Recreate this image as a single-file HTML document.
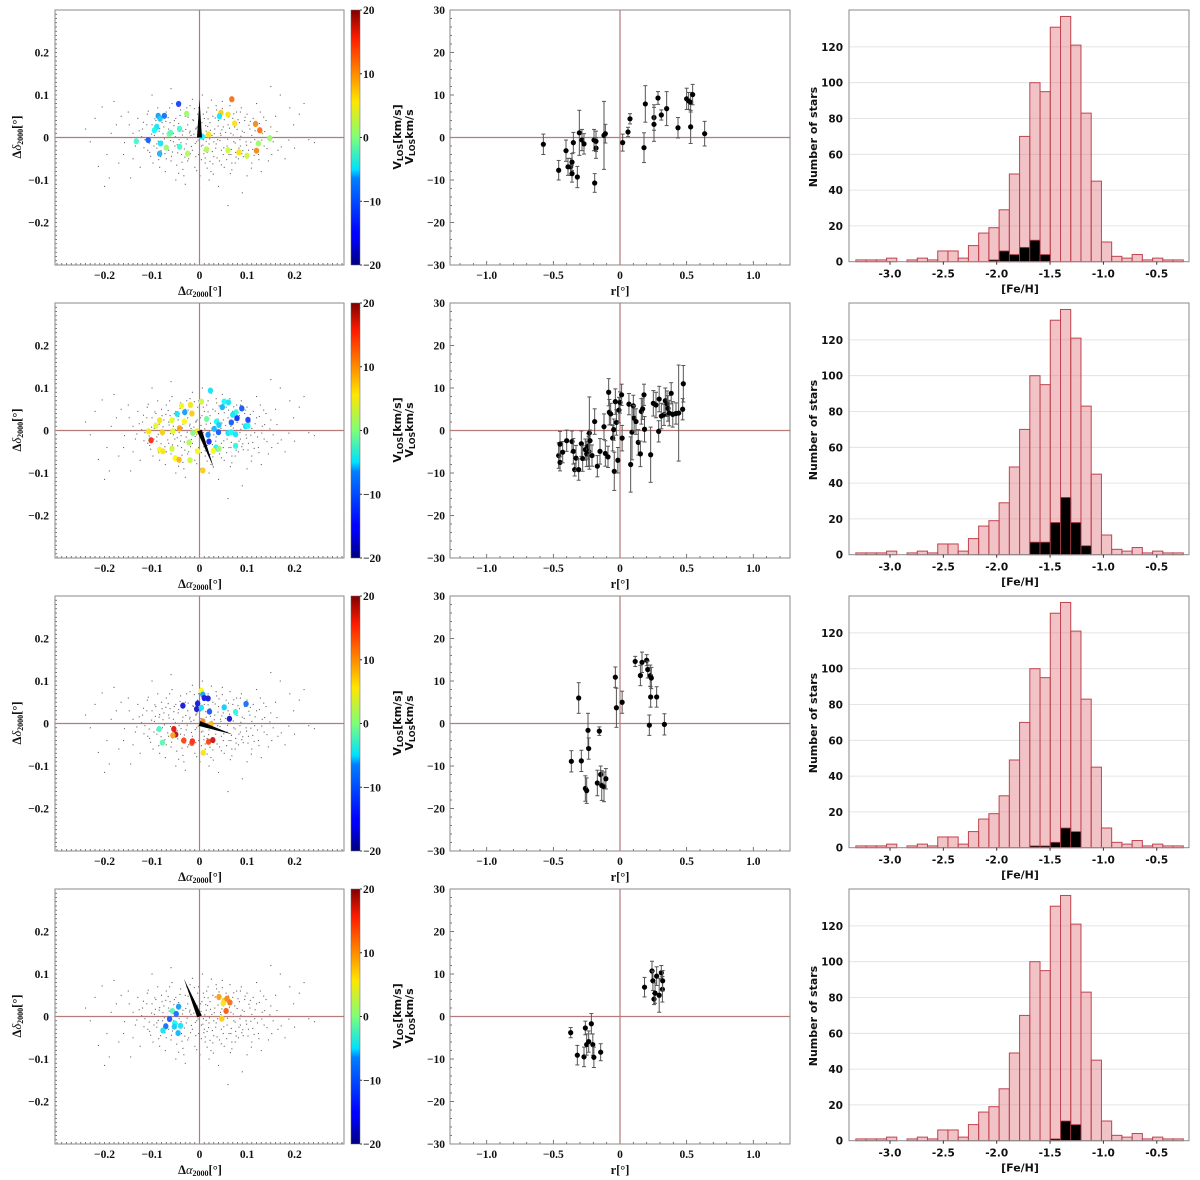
<!DOCTYPE html>
<html><head><meta charset="utf-8"><title>Kinematics and metallicity panels</title>
<style>
html,body{margin:0;padding:0;background:#fff;}
svg{display:block;}
.tl{font-family:"Liberation Serif",serif;font-weight:bold;font-size:11.5px;fill:#111;}
.ts{font-family:"DejaVu Sans","Liberation Sans",sans-serif;font-weight:bold;font-size:10.5px;fill:#111;}
.lab{font-family:"DejaVu Sans","Liberation Sans",sans-serif;font-weight:bold;font-size:11px;fill:#111;}
.labs{font-family:"Liberation Serif",serif;font-weight:bold;font-size:12.5px;fill:#111;}
</style></head>
<body>
<svg id="fig" width="1200" height="1180" viewBox="0 0 1200 1180" xmlns="http://www.w3.org/2000/svg">
<defs>
<linearGradient id="jet" x1="0" y1="1" x2="0" y2="0">
<stop offset="0" stop-color="#00007f"/><stop offset="0.11" stop-color="#0000ff"/>
<stop offset="0.125" stop-color="#0000ff"/><stop offset="0.34" stop-color="#0080ff"/>
<stop offset="0.375" stop-color="#00e0ff"/><stop offset="0.5" stop-color="#7dff7a"/>
<stop offset="0.64" stop-color="#ffe600"/><stop offset="0.75" stop-color="#ff8c00"/>
<stop offset="0.89" stop-color="#ff1c00"/><stop offset="1" stop-color="#800000"/>
</linearGradient>
</defs>
</svg>
<script>
// ---------- DATA ----------
const binStart = -3.32;
const binWidth = 0.0959;
const histCounts = [1,1,1,2,0,1,2,1,6,6,2,9,16,19,29,49,70,100,95,131,137,121,83,45,11,3,2,4,1,2,1,1];
const blackCounts1 = [0,0,0,0,0,0,0,0,0,0,0,0,0,1,6,4,8,12,4,0,0,0,0,0,0,0,0,0,0,0,0,0];
const blackCounts2 = [0,0,0,0,0,0,0,0,0,0,0,0,0,0,0,0,0,7,7,18,32,18,5,0,0,0,0,0,0,0,0,0];
const blackCounts3 = [0,0,0,0,0,0,0,0,0,0,0,0,0,0,0,0,0,1,1,3,11,9,0,0,0,0,0,0,0,0,0,0];
const blackCounts4 = [0,0,0,0,0,0,0,0,0,0,0,0,0,0,0,0,0,0,0,1,11,9,0,0,0,0,0,0,0,0,0,0];
const histXTicks = [-3.0,-2.5,-2.0,-1.5,-1.0,-0.5];
const histYTicks = [0,20,40,60,80,100,120];

const r1 = [-0.575,-0.46,-0.405,-0.39,-0.37,-0.36,-0.36,-0.35,-0.32,-0.305,-0.285,-0.27,-0.195,-0.19,-0.18,-0.18,-0.12,-0.11,0.02,0.06,0.075,0.18,0.19,0.255,0.255,0.285,0.31,0.35,0.435,0.5,0.515,0.53,0.53,0.545,0.635];
const v1 = [-1.6,-7.7,-3.1,-6.9,-6.9,-5.8,-8.5,-1.2,-9.3,1.1,-0.6,-1.5,-0.6,-10.7,-2.5,-0.9,0.5,0.9,-1.2,1.3,4.4,-2.4,7.9,4.7,3.1,9.3,5.3,6.8,2.3,9.1,8.6,8.3,2.5,10.1,0.9];
const e1 = [2.4,2.3,2.5,2,2,2,2,2.4,2.5,5.3,2.5,2.4,2.5,2.2,2.4,2.4,8,2.2,2,1.1,1.2,3.5,4.3,3,4,1.5,1.2,4,2.4,2.5,2,2.3,3.9,2.4,2.9];

const r2 = [-0.46,-0.45,-0.45,-0.43,-0.40,-0.36,-0.35,-0.34,-0.33,-0.31,-0.29,-0.28,-0.26,-0.25,-0.24,-0.235,-0.23,-0.225,-0.21,-0.19,-0.17,-0.15,-0.12,-0.11,-0.09,-0.085,-0.08,-0.07,-0.055,-0.047,-0.043,-0.035,-0.027,-0.016,-0.008,0.0,0.012,0.016,0.067,0.08,0.09,0.1,0.106,0.12,0.137,0.153,0.16,0.17,0.18,0.184,0.23,0.25,0.27,0.29,0.294,0.31,0.33,0.34,0.353,0.36,0.37,0.384,0.396,0.42,0.44,0.47,0.475];
const v2 = [-5.9,-7.5,-3.2,-5.1,-2.4,-2.6,-4.9,-9.2,-6.5,-9.2,-3.1,-6.6,-4.5,-5.5,-3.75,-4.9,-0.6,-2.4,-5.9,2.1,-8.4,-4.9,0.9,-5.4,-6.2,9.0,4.3,3.9,-1.8,0.2,-9.6,6.8,1.9,-7.0,4.8,6.6,8.4,-1.8,6.2,-8.0,-0.4,5.8,2.9,2.1,-2.8,-5.5,4.5,5.1,8.4,0.3,-5.7,6.4,6.0,-0.2,7.4,3.4,3.7,7.0,6.3,5.2,4.1,8.75,3.8,4.0,4.1,5.0,11.0];
const e2 = [3,2,3,2.5,2.5,2.5,3,1.5,3,2.5,3,3,2.5,3,3,3.5,8.5,2.5,2.5,3,2.5,3,3,3,2.5,3.2,3,2.5,3,2.5,4.5,3,3,3,3,2.5,2.5,3,2.5,6.5,6.5,2.5,3,3,3,3,3,2.5,2.5,3,6.5,3,3,2.5,3,3,2.5,3,3,3,3,2.5,3,2.5,11.3,2.5,4.3];

const r3 = [-0.365,-0.31,-0.29,-0.26,-0.25,-0.24,-0.235,-0.17,-0.155,-0.145,-0.137,-0.12,-0.106,-0.035,-0.027,0.016,0.114,0.153,0.165,0.2,0.208,0.22,0.227,0.23,0.235,0.275,0.333];
const v3 = [-8.9,6.0,-8.8,-15.3,-15.8,-1.6,-5.9,-14.0,-1.8,-12.0,-14.6,-14.9,-13.0,10.9,3.7,5.0,14.6,11.3,14.4,14.9,12.7,-0.4,11.25,6.25,10.7,6.25,-0.2];
const e3 = [2.5,3.6,2.5,3,3,4,2.5,3,1,2,3.5,3.5,2.4,2.4,4.6,2.6,1.2,2.4,2.4,1.3,2,2.4,2.5,2.4,2.5,2.4,2.5];

const r4 = [-0.37,-0.32,-0.27,-0.26,-0.25,-0.235,-0.215,-0.204,-0.196,-0.145,0.184,0.24,0.247,0.255,0.263,0.275,0.294,0.31,0.318,0.32];
const v4 = [-3.8,-9.1,-9.5,-2.7,-6.6,-5.9,-1.7,-6.6,-9.6,-8.4,6.9,10.7,8.4,4.1,5.5,9.5,5.0,10.3,6.4,8.4];
const e4 = [1.2,2.3,2.3,1.6,2.5,2.5,2.4,2.5,2.4,2,2.3,2.3,2.3,1.3,2.4,2.2,4,1.7,3,2.4];

const rTicks = [-1.0,-0.5,0,0.5,1.0];
const vTicks = [30,20,10,0,-10,-20,-30];
const posTicks = [-0.2,-0.1,0,0.1,0.2];
const cbTicks = [20,10,0,-10,-20];

const cx1 = [-0.044,-0.087,-0.083,-0.074,-0.09,-0.095,-0.064,-0.061,-0.042,-0.027,-0.133,-0.108,-0.082,-0.084,-0.07,-0.042,-0.025,0.006,0.019,0.015,0.045,0.042,0.06,0.068,0.074,0.06,0.083,0.1,0.118,0.127,0.12,0.124,0.148,0.003];
const cy1 = [0.079,0.051,0.044,0.051,0.025,0.017,0.008,0.011,0.02,0.056,-0.009,-0.006,-0.014,-0.038,-0.024,-0.022,-0.038,0.002,0.007,-0.028,0.058,0.05,0.054,0.09,0.033,-0.03,-0.035,-0.043,0.032,0.017,-0.031,-0.014,-0.002,0.003];
const cv1 = [-13,-9,-7,-11,-6,-5,0,-2,-3,1,-3,-12,-6,-8,1,-3,2,-4,6,2,7,-6,6,11,6,3,6,3,10,11,10,1,1,-6];

const cx2 = [0.023,0.004,-0.019,-0.016,-0.031,-0.047,-0.038,-0.058,-0.084,-0.092,-0.107,-0.102,-0.078,-0.056,-0.042,-0.032,-0.005,-0.084,-0.077,-0.058,-0.051,-0.043,-0.02,-0.004,0.007,-0.022,0.052,0.061,0.048,0.089,0.077,0.07,0.067,0.079,0.102,0.097,0.102,0.036,0.041,0.031,0.018,0.04,0.06,0.067,0.076,0.02,0.035,0.041,0.029,0.076,-0.014,0.015];
const cy2 = [0.094,0.068,0.06,0.04,0.043,0.039,0.058,0.024,0.024,0.011,-0.002,-0.023,-0.004,-0.002,0.005,0.021,-0.002,-0.045,-0.049,-0.043,-0.065,-0.069,-0.07,-0.049,-0.094,-0.028,0.068,0.066,0.055,0.052,0.043,0.037,0.019,0.029,0.025,0.01,0.011,0.021,0.013,0.004,-0.01,-0.004,-0.006,-0.004,-0.009,-0.026,-0.04,-0.043,-0.048,-0.036,-0.006,0.027];
const cv2 = [-6,3,6,7,-9,-6,5,4,6,4,6,14,7,4,9,5,6,5,6,3,5,8,3,5,7,2,-5,-6,-8,-12,-4,-6,-12,-14,-13,-6,-5,-5,-7,-8,-10,-12,-6,-5,-6,-14,-5,1,5,-4,0,-1];

const cx3 = [0.004,0.007,0.01,0.018,-0.035,-0.004,-0.006,0.004,0.021,0.052,0.098,0.076,0.063,0.007,0.024,-0.085,-0.054,-0.05,-0.056,-0.078,-0.033,-0.016,-0.015,0.019,0.028,0.008];
const cy3 = [0.077,0.068,0.06,0.059,0.042,0.047,0.034,0.037,0.028,0.038,0.046,0.027,0.011,0.005,-0.002,-0.013,-0.013,-0.026,-0.028,-0.045,-0.04,-0.046,-0.042,-0.043,-0.039,-0.069];
const cv3 = [5,-9,-16,-16,-16,-16,-17,-6,-12,-7,-11,-4,-17,10,8,-3,16,18,9,-2,13,12,14,13,17,6];

const cx4 = [-0.044,-0.057,-0.049,-0.063,-0.052,-0.053,-0.071,-0.077,-0.04,-0.045,0.041,0.052,0.058,0.064,0.05,0.056,0.047];
const cy4 = [0.023,0.013,0.006,-0.006,-0.016,-0.024,-0.023,-0.033,-0.022,-0.039,0.046,0.037,0.042,0.033,0.031,0.013,-0.005];
const cv4 = [-9,-2,-11,-12,-5,-7,-11,-6,-6,-8,9,7,10,11,6,12,7];

const wedgeX = [0.0, 0.03, 0.07, -0.033];
const wedgeY = [0.09, -0.0875, -0.026, 0.089];

const fieldStars = "-220,45;-205,72;-190,-95;-175,30;-160,-40;-150,60;-140,10;-135,-20;-130,45;-125,-70;-120,20;-115,-5;-110,55;-105,-35;-100,30;-98,-60;-95,5;-92,40;-90,-25;-88,70;-85,15;-82,-45;-80,50;-78,-10;-75,25;-72,-80;-70,60;-68,0;-65,-30;-62,35;-60,-55;-58,80;-55,10;-52,-20;-50,45;-48,-65;-45,25;-43,-5;-40,65;-38,-40;-35,15;-33,-90;-30,50;-28,-15;-25,30;-23,-50;-20,75;-18,5;-15,-30;-13,40;-10,-70;-8,20;-6,-10;-4,55;-2,-40;0,-120;2,30;4,-20;6,100;8,-5;10,45;12,-60;14,15;16,-35;18,70;20,-15;22,35;24,-80;26,5;28,50;30,-45;32,20;34,-25;36,65;38,-5;40,40;42,-55;44,10;46,-30;48,85;50,25;52,-70;54,0;56,55;58,-20;60,30;62,-40;64,75;66,10;68,-60;70,45;72,-10;74,25;76,-35;78,60;80,0;82,-50;84,35;86,-20;88,70;90,15;92,-45;95,40;98,-10;100,55;103,-30;106,20;110,-60;113,45;116,-5;120,30;124,-40;128,60;132,10;136,-20;140,40;145,-55;150,25;155,-10;160,50;165,-30;170,100;180,-50;190,70;200,-25;210,55;230,-5;-230,-10;-200,-115;-180,85;-170,-60;-145,-95;-60,115;-30,-110;40,-115;90,-130;60,-160;120,80;150,120;-100,100;-50,-100;20,-100;100,-90;130,-80;-15,90;25,88;-70,-50;-35,-75;65,-85;110,5;-140,-50;-20,15;10,-30;-5,25;30,-10;-40,-25;50,-40;15,60;-55,-10;75,-60;-25,-55;35,75;-65,20;85,-5;-90,-15;45,5";
const fieldStarsCore = "-12,8;-9,-14;-7,22;-3,-6;3,12;7,-18;11,4;14,-9;17,26;21,-3;-17,-21;-21,11;-26,-4;-29,19;-32,-27;-36,6;-39,-12;-44,33;-47,-17;-51,2;-54,28;-57,-34;-61,-7;-64,13;-67,-22;-71,38;-74,-3;-77,9;-81,-31;-84,21;-87,-9;-93,17;-96,-20;-101,8;-106,-13;-111,30;-117,-24;-122,2;-127,16;-132,-8;5,35;9,-38;13,28;19,-26;23,17;27,-33;31,9;35,-15;39,27;43,-7;47,18;51,-24;55,12;59,-4;63,22;67,-28;71,6;75,-13;79,19;83,-25;87,3;91,-31;94,12;99,-18;104,29;108,-11;112,-28;117,16;122,-15;126,33;131,-6;137,14;142,-26;148,4;-8,-45;-14,42;-19,-38;-24,48;-31,-46;-37,-58;-41,52;-46,-36;-53,40;-59,-44;-66,47;-73,-38;-79,35;-86,-52;-94,44;-103,-44;-109,-30;-118,36;4,-52;8,55;12,-48;18,44;22,-56;28,-62;33,46;37,-48;41,58;46,-64;52,42;57,-52;61,48;66,-40;72,56;77,-46;81,42;89,-38;96,48;102,-46;107,38;115,-42;125,-52;135,48;-2,70;-6,-78;1,-90;-11,68;16,-72;-27,70;29,-86;-44,-84;48,68;-63,70;68,-76;-84,-70;86,60;-108,62;109,-72;-148,30;152,-40;-158,-12;163,14;-165,50;172,-22;-186,10;188,-6;-195,-40;198,30;-240,20;242,-12;-213,-68;220,80";

// ---------- HELPERS ----------
const svg = document.getElementById('fig');
const NS = 'http://www.w3.org/2000/svg';
function mk(tag, attrs, parent) {
  const el = document.createElementNS(NS, tag);
  for (const k in attrs) el.setAttribute(k, attrs[k]);
  (parent || svg).appendChild(el);
  return el;
}
function fmt(v) { return v === 0 ? '0' : (v < 0 ? '\u2212' : '') + Math.abs(v).toFixed(1); }
function jet(v) {
  let t = Math.max(0, Math.min(1, (v + 20) / 40));
  const r = Math.max(0, Math.min(1, 1.5 - Math.abs(4 * t - 3)));
  const g = Math.max(0, Math.min(1, 1.5 - Math.abs(4 * t - 2)));
  const b = Math.max(0, Math.min(1, 1.5 - Math.abs(4 * t - 1)));
  // slight pastel softening like the reference
  const s = c => Math.round((c * 0.85 + 0.15 * 0.85) * 255);
  return 'rgb(' + s(r) + ',' + s(g) + ',' + s(b) + ')';
}
const FRAME = '#8a8a8a', CROSS = '#b57a7a';
const stars = (fieldStars + ';' + fieldStarsCore).split(';').map(s => s.split(',').map(Number));

const posX = [cx1, cx2, cx3, cx4], posY = [cy1, cy2, cy3, cy4], posV = [cv1, cv2, cv3, cv4];
const rs = [r1, r2, r3, r4], vs = [v1, v2, v3, v4], es = [e1, e2, e3, e4];
const blacks = [blackCounts1, blackCounts2, blackCounts3, blackCounts4];

for (let row = 0; row < 4; row++) {
  const oy = row * 293;
  const top = 10 + oy, bot = 265 + oy;

  // ===== Panel A =====
  const gA = mk('g', {});
  
  
  const aL = 55, aR = 344;
  const ax = v => 199.5 + v * 475;
  const ay = v => 137.5 + oy - v * 425;
  mk('rect', {x: aL, y: top, width: aR - aL, height: bot - top, fill: '#fff', stroke: 'none'}, gA);
  for (let k = -30; k <= 30; k++) {
    const xx = ax(k / 100);
    if (xx > aL && xx < aR) mk('line', {x1: xx, y1: bot, x2: xx, y2: bot - 2, stroke: '#555', 'stroke-width': 0.8}, gA);
    const yy = ay(k / 100);
    if (yy > top && yy < bot) mk('line', {x1: aL, y1: yy, x2: aL + 2, y2: yy, stroke: '#555', 'stroke-width': 0.8}, gA);
  }
  stars.forEach(p => {
    const d = mk('rect', {x: ax(p[0] / 1000) - 0.5, y: ay(p[1] / 1000) - 0.5, width: 1.1, height: 1.1, fill: '#666'}, gA);
    
    
  });
  mk('line', {x1: aL, y1: ay(0), x2: aR, y2: ay(0), stroke: CROSS, 'stroke-width': 1.2}, gA);
  mk('line', {x1: ax(0), y1: top, x2: ax(0), y2: bot, stroke: CROSS, 'stroke-width': 1.2}, gA);
  for (let i = 0; i < posX[row].length; i++) {
    const c = mk('ellipse', {cx: ax(posX[row][i]), cy: ay(posY[row][i]), rx: 2.7, ry: 3.1, fill: jet(posV[row][i])}, gA);
    
    
  }
  {
    const x0 = ax(0), y0 = ay(0), x1 = ax(wedgeX[row]), y1 = ay(wedgeY[row]);
    const dx = x1 - x0, dy = y1 - y0, L = Math.hypot(dx, dy);
    const px = -dy / L * 2.5, py = dx / L * 2.5;
    const w = mk('polygon', {points: (x0 + px) + ',' + (y0 + py) + ' ' + (x0 - px) + ',' + (y0 - py) + ' ' + x1 + ',' + y1, fill: '#000'}, gA);
    
    
  }
  mk('rect', {x: aL, y: top, width: aR - aL, height: bot - top, fill: 'none', stroke: FRAME, 'stroke-width': 1}, gA);
  posTicks.forEach(t => {
    const tx = mk('text', {x: ax(t), y: bot + 14, 'text-anchor': 'middle', class: 'tl'}, gA);
    tx.textContent = fmt(t);
    
    
    const ty = mk('text', {x: aL - 6, y: ay(t) + 4, 'text-anchor': 'end', class: 'tl'}, gA);
    ty.textContent = fmt(t);
    
    
  });
  const xtA = mk('text', {x: 200, y: bot + 30, 'text-anchor': 'middle', class: 'labs'}, gA);
  xtA.innerHTML = '\u0394<tspan font-style="italic" font-weight="normal">\u03b1</tspan><tspan font-size="8" dy="2">2000</tspan><tspan dy="-2">[\u00b0]</tspan>';
  
  
  const ytA = mk('text', {x: 0, y: 0, 'text-anchor': 'middle', class: 'labs', transform: 'translate(21,' + (137 + oy) + ') rotate(-90)'}, gA);
  ytA.innerHTML = '\u0394<tspan font-style="italic" font-weight="normal">\u03b4</tspan><tspan font-size="8" dy="2">2000</tspan><tspan dy="-2">[\u00b0]</tspan>';
  
  

  const cb = mk('rect', {x: 351, y: top, width: 9, height: bot - top, fill: 'url(#jet)', stroke: '#666', 'stroke-width': 0.5});
  
  
  cbTicks.forEach(t => {
    const yy = top + (20 - t) / 40 * (bot - top);
    mk('line', {x1: 360, y1: yy, x2: 362, y2: yy, stroke: '#333'});
    const tt = mk('text', {x: 363, y: yy + 4, class: 'tl'});
    tt.textContent = (t < 0 ? '\u2212' : '') + Math.abs(t);
    
    
  });
  const cbt = mk('text', {x: 0, y: 0, 'text-anchor': 'middle', class: 'lab', transform: 'translate(401,' + (137 + oy) + ') rotate(-90)'});
  cbt.innerHTML = 'V<tspan font-size="8" dy="2">LOS</tspan><tspan dy="-2">[km/s]</tspan>';
  
  

  // ===== Panel B =====
  const gB = mk('g', {});
  
  
  const bL = 450, bR = 790;
  const bx = v => 620 + v * 133.3;
  const by = v => 137.5 + oy - v * 4.25;
  for (let k = -12; k <= 12; k++) {
    const xx = bx(k / 10);
    if (xx > bL && xx < bR) mk('line', {x1: xx, y1: bot, x2: xx, y2: bot - (k % 5 === 0 ? 4 : 2), stroke: '#555', 'stroke-width': 0.8}, gB);
  }
  for (let k = -30; k <= 30; k += 2) {
    const yy = by(k);
    mk('line', {x1: bL, y1: yy, x2: bL + (k % 10 === 0 ? 4 : 2), y2: yy, stroke: '#555', 'stroke-width': 0.8}, gB);
  }
  mk('line', {x1: bL, y1: by(0), x2: bR, y2: by(0), stroke: CROSS, 'stroke-width': 1.2}, gB);
  mk('line', {x1: bx(0), y1: top, x2: bx(0), y2: bot, stroke: CROSS, 'stroke-width': 1.2}, gB);
  for (let i = 0; i < rs[row].length; i++) {
    const X = bx(rs[row][i]), Y = by(vs[row][i]), e = es[row][i];
    const g = mk('g', {}, gB);
    
    
    mk('line', {x1: X, y1: by(vs[row][i] + e), x2: X, y2: by(vs[row][i] - e), stroke: '#555', 'stroke-width': 1}, g);
    mk('line', {x1: X - 2, y1: by(vs[row][i] + e), x2: X + 2, y2: by(vs[row][i] + e), stroke: '#555', 'stroke-width': 1}, g);
    mk('line', {x1: X - 2, y1: by(vs[row][i] - e), x2: X + 2, y2: by(vs[row][i] - e), stroke: '#555', 'stroke-width': 1}, g);
    mk('circle', {cx: X, cy: Y, r: 2.6, fill: '#000'}, g);
  }
  mk('rect', {x: bL, y: top, width: bR - bL, height: bot - top, fill: 'none', stroke: FRAME, 'stroke-width': 1}, gB);
  rTicks.forEach(t => {
    const tx = mk('text', {x: bx(t), y: bot + 14, 'text-anchor': 'middle', class: 'tl'}, gB);
    tx.textContent = fmt(t);
    
    
  });
  vTicks.forEach(t => {
    const ty = mk('text', {x: bL - 5, y: by(t) + 4, 'text-anchor': 'end', class: 'tl'}, gB);
    ty.textContent = (t < 0 ? '\u2212' : '') + Math.abs(t);
    
    
  });
  const xtB = mk('text', {x: 620, y: bot + 30, 'text-anchor': 'middle', class: 'labs'}, gB);
  xtB.textContent = 'r[\u00b0]';
  
  
  const ytB = mk('text', {x: 0, y: 0, 'text-anchor': 'middle', class: 'lab', transform: 'translate(413,' + (137 + oy) + ') rotate(-90)'}, gB);
  ytB.innerHTML = 'V<tspan font-size="8" dy="2">LOS</tspan><tspan dy="-2">km/s</tspan>';
  
  

  // ===== Panel C =====
  const gC = mk('g', {});
  
  
  const cL = 849, cR = 1189, cBot = 261.7 + oy;
  const hx = v => 890 + (v + 3) * 106.7;
  const hy = c => cBot - c * 1.79;
  mk('rect', {x: cL, y: top, width: cR - cL, height: cBot - top, fill: '#fff'}, gC);
  histYTicks.forEach(t => {
    if (t > 0) mk('line', {x1: cL, y1: hy(t), x2: cR, y2: hy(t), stroke: '#ddd', 'stroke-width': 0.8}, gC);
  });
  histCounts.forEach((c, i) => {
    if (c <= 0) return;
    const x0 = hx(binStart + i * binWidth), x1 = hx(binStart + (i + 1) * binWidth);
    const b = mk('rect', {x: x0, y: hy(c), width: x1 - x0, height: cBot - hy(c), fill: 'rgba(224,120,128,0.45)', stroke: '#c0444e', 'stroke-width': 1}, gC);
    
    
  });
  blacks[row].forEach((c, i) => {
    if (c <= 0) return;
    const x0 = hx(binStart + i * binWidth), x1 = hx(binStart + (i + 1) * binWidth);
    const b = mk('rect', {x: x0, y: hy(c), width: x1 - x0, height: cBot - hy(c), fill: '#000', stroke: '#b0404a', 'stroke-width': 0.8}, gC);
    
    
  });
  mk('rect', {x: cL, y: top, width: cR - cL, height: cBot - top, fill: 'none', stroke: FRAME, 'stroke-width': 1}, gC);
  histXTicks.forEach(t => {
    mk('line', {x1: hx(t), y1: cBot, x2: hx(t), y2: cBot + 3, stroke: '#333'}, gC);
    const tx = mk('text', {x: hx(t), y: cBot + 16, 'text-anchor': 'middle', class: 'ts'}, gC);
    tx.textContent = t.toFixed(1);
    
    
  });
  histYTicks.forEach(t => {
    const ty = mk('text', {x: cL - 6, y: hy(t) + 4, 'text-anchor': 'end', class: 'ts'}, gC);
    ty.textContent = t;
    
    
  });
  const xtC = mk('text', {x: 1020, y: cBot + 31, 'text-anchor': 'middle', class: 'lab'}, gC);
  xtC.textContent = '[Fe/H]';
  
  
  const ytC = mk('text', {x: 0, y: 0, 'text-anchor': 'middle', class: 'lab', transform: 'translate(817,' + (137 + oy) + ') rotate(-90)'}, gC);
  ytC.textContent = 'Number of stars';
  
  
}
</script>
</body></html>
